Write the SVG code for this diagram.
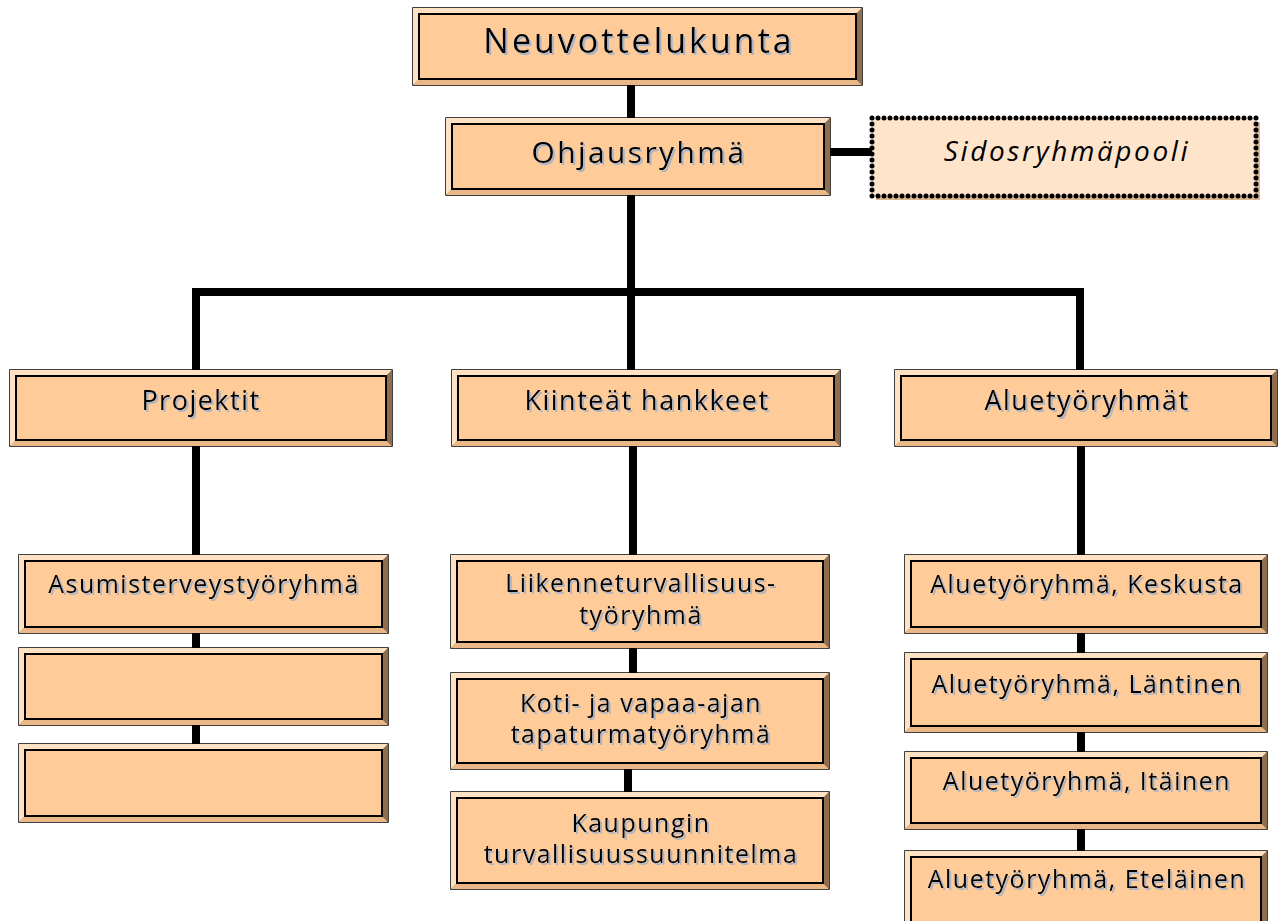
<svg xmlns="http://www.w3.org/2000/svg" width="1284" height="921" viewBox="0 0 1284 921">
<style>
.ln{stroke:#000;stroke-width:8;fill:none;stroke-linecap:butt}
.o{fill:#9A7A5A;stroke:#000;stroke-width:1.5}
.tl{fill:#FFE2C4}
.bt{fill:#E9B886}
.rt{fill:#8E6E4E}
.in{fill:#FFCC99;stroke:#000;stroke-width:2}
.t{font-family:"Open Sans","DejaVu Sans",sans-serif;fill:#000;text-anchor:middle;filter:url(#sh)}
.f33{font-size:34px;letter-spacing:3px}
.f29{font-size:30px;letter-spacing:2.4px}
.f27{font-size:27px;letter-spacing:1.5px}
.f25{font-size:25px;letter-spacing:1.5px}
.fi{font-size:28px;letter-spacing:2.6px;font-style:italic;filter:none}
</style>
<defs>
<filter id="sh" x="-5%" y="-20%" width="110%" height="140%">
<feOffset in="SourceAlpha" dx="2" dy="2" result="o"/>
<feFlood flood-color="#A9B4C6"/>
<feComposite in2="o" operator="in" result="s"/>
<feMerge><feMergeNode in="s"/><feMergeNode in="SourceGraphic"/></feMerge>
</filter>
</defs>
<g id="connectors">
<path class="ln" d="M631 85V118M631 195V292M192 292H1084M196 288V370M631 288V370M1080 288V370"/>
<path class="ln" d="M830 152H872"/>
<path class="ln" d="M196 446V555M196 633V648M196 725V744"/>
<path class="ln" d="M633 446V555M633 648V673M628 769V792"/>
<path class="ln" d="M1081 446V555M1081 633V653M1081 732V752M1081 829V851"/>
</g>

<g id="n-neuvottelukunta">
<rect class="o" x="413" y="8" width="449" height="77"/>
<path class="tl" d="M413 8H862L856 14H419V79L413 85Z"/>
<path class="bt" d="M413 85L419 79H856L862 85Z"/>
<path class="rt" d="M862 8V85L856 79V14Z"/>
<rect class="in" x="419" y="14" width="437" height="65"/>
<text class="t f33" x="639" y="53">Neuvottelukunta</text>
</g>

<g id="n-ohjausryhma">
<rect class="o" x="446" y="118" width="384" height="77"/>
<path class="tl" d="M446 118H830L824 124H452V189L446 195Z"/>
<path class="bt" d="M446 195L452 189H824L830 195Z"/>
<path class="rt" d="M830 118V195L824 189V124Z"/>
<rect class="in" x="452" y="124" width="372" height="65"/>
<text class="t f29" x="639" y="163">Ohjausryhmä</text>
</g>

<g id="n-sidosryhmapooli">
<rect x="876" y="122" width="384" height="78" fill="#E0B890"/>
<rect x="872" y="118" width="384" height="78" fill="#FFE4CC" stroke="#000" stroke-width="5" stroke-dasharray="0 6" stroke-linecap="round"/>
<text class="t fi" x="1067" y="161">Sidosryhmäpooli</text>
</g>

<g id="n-projektit">
<rect class="o" x="10" y="370" width="382" height="76"/>
<path class="tl" d="M10 370H392L386 376H16V440L10 446Z"/>
<path class="bt" d="M10 446L16 440H386L392 446Z"/>
<path class="rt" d="M392 370V446L386 440V376Z"/>
<rect class="in" x="16" y="376" width="370" height="64"/>
<text class="t f27" x="201" y="410">Projektit</text>
</g>

<g id="n-kiinteat">
<rect class="o" x="452" y="370" width="388" height="76"/>
<path class="tl" d="M452 370H840L834 376H458V440L452 446Z"/>
<path class="bt" d="M452 446L458 440H834L840 446Z"/>
<path class="rt" d="M840 370V446L834 440V376Z"/>
<rect class="in" x="458" y="376" width="376" height="64"/>
<text class="t f27" x="647" y="410">Kiinteät hankkeet</text>
</g>

<g id="n-aluetyoryhmat">
<rect class="o" x="895" y="370" width="382" height="76"/>
<path class="tl" d="M895 370H1277L1271 376H901V440L895 446Z"/>
<path class="bt" d="M895 446L901 440H1271L1277 446Z"/>
<path class="rt" d="M1277 370V446L1271 440V376Z"/>
<rect class="in" x="901" y="376" width="370" height="64"/>
<text class="t f27" x="1087" y="410">Aluetyöryhmät</text>
</g>

<g id="n-asumisterveys">
<rect class="o" x="19" y="555" width="369" height="78"/>
<path class="tl" d="M19 555H388L382 561H25V627L19 633Z"/>
<path class="bt" d="M19 633L25 627H382L388 633Z"/>
<path class="rt" d="M388 555V633L382 627V561Z"/>
<rect class="in" x="25" y="561" width="357" height="66"/>
<text class="t f25" x="204" y="593">Asumisterveystyöryhmä</text>
</g>

<g id="n-tyhja1">
<rect class="o" x="19" y="648" width="369" height="77"/>
<path class="tl" d="M19 648H388L382 654H25V719L19 725Z"/>
<path class="bt" d="M19 725L25 719H382L388 725Z"/>
<path class="rt" d="M388 648V725L382 719V654Z"/>
<rect class="in" x="25" y="654" width="357" height="65"/>
</g>

<g id="n-tyhja2">
<rect class="o" x="19" y="744" width="369" height="78"/>
<path class="tl" d="M19 744H388L382 750H25V816L19 822Z"/>
<path class="bt" d="M19 822L25 816H382L388 822Z"/>
<path class="rt" d="M388 744V822L382 816V750Z"/>
<rect class="in" x="25" y="750" width="357" height="66"/>
</g>

<g id="n-liikenne">
<rect class="o" x="451" y="555" width="378" height="93"/>
<path class="tl" d="M451 555H829L823 561H457V642L451 648Z"/>
<path class="bt" d="M451 648L457 642H823L829 648Z"/>
<path class="rt" d="M829 555V648L823 642V561Z"/>
<rect class="in" x="457" y="561" width="366" height="81"/>
<text class="t f25" x="641" y="592">Liikenneturvallisuus-</text>
<text class="t f25" x="641" y="624">työryhmä</text>
</g>

<g id="n-koti">
<rect class="o" x="451" y="673" width="378" height="96"/>
<path class="tl" d="M451 673H829L823 679H457V763L451 769Z"/>
<path class="bt" d="M451 769L457 763H823L829 769Z"/>
<path class="rt" d="M829 673V769L823 763V679Z"/>
<rect class="in" x="457" y="679" width="366" height="84"/>
<text class="t f25" x="641" y="712">Koti- ja vapaa-ajan</text>
<text class="t f25" x="641" y="743">tapaturmatyöryhmä</text>
</g>

<g id="n-kaupungin">
<rect class="o" x="451" y="792" width="378" height="97"/>
<path class="tl" d="M451 792H829L823 798H457V883L451 889Z"/>
<path class="bt" d="M451 889L457 883H823L829 889Z"/>
<path class="rt" d="M829 792V889L823 883V798Z"/>
<rect class="in" x="457" y="798" width="366" height="85"/>
<text class="t f25" x="641" y="832">Kaupungin</text>
<text class="t f25" x="641" y="863">turvallisuussuunnitelma</text>
</g>

<g id="n-keskusta">
<rect class="o" x="905" y="555" width="362" height="78"/>
<path class="tl" d="M905 555H1267L1261 561H911V627L905 633Z"/>
<path class="bt" d="M905 633L911 627H1261L1267 633Z"/>
<path class="rt" d="M1267 555V633L1261 627V561Z"/>
<rect class="in" x="911" y="561" width="350" height="66"/>
<text class="t f25" x="1087" y="593">Aluetyöryhmä, Keskusta</text>
</g>

<g id="n-lantinen">
<rect class="o" x="905" y="653" width="362" height="79"/>
<path class="tl" d="M905 653H1267L1261 659H911V726L905 732Z"/>
<path class="bt" d="M905 732L911 726H1261L1267 732Z"/>
<path class="rt" d="M1267 653V732L1261 726V659Z"/>
<rect class="in" x="911" y="659" width="350" height="67"/>
<text class="t f25" x="1087" y="693">Aluetyöryhmä, Läntinen</text>
</g>

<g id="n-itainen">
<rect class="o" x="905" y="752" width="362" height="77"/>
<path class="tl" d="M905 752H1267L1261 758H911V823L905 829Z"/>
<path class="bt" d="M905 829L911 823H1261L1267 829Z"/>
<path class="rt" d="M1267 752V829L1261 823V758Z"/>
<rect class="in" x="911" y="758" width="350" height="65"/>
<text class="t f25" x="1087" y="790">Aluetyöryhmä, Itäinen</text>
</g>

<g id="n-etelainen">
<rect class="o" x="905" y="851" width="362" height="100"/>
<path class="tl" d="M905 851H1267L1261 857H911V945L905 951Z"/>
<path class="rt" d="M1267 851V951L1261 945V857Z"/>
<rect class="in" x="911" y="857" width="350" height="88"/>
<text class="t f25" x="1087" y="888">Aluetyöryhmä, Eteläinen</text>
</g>
</svg>
